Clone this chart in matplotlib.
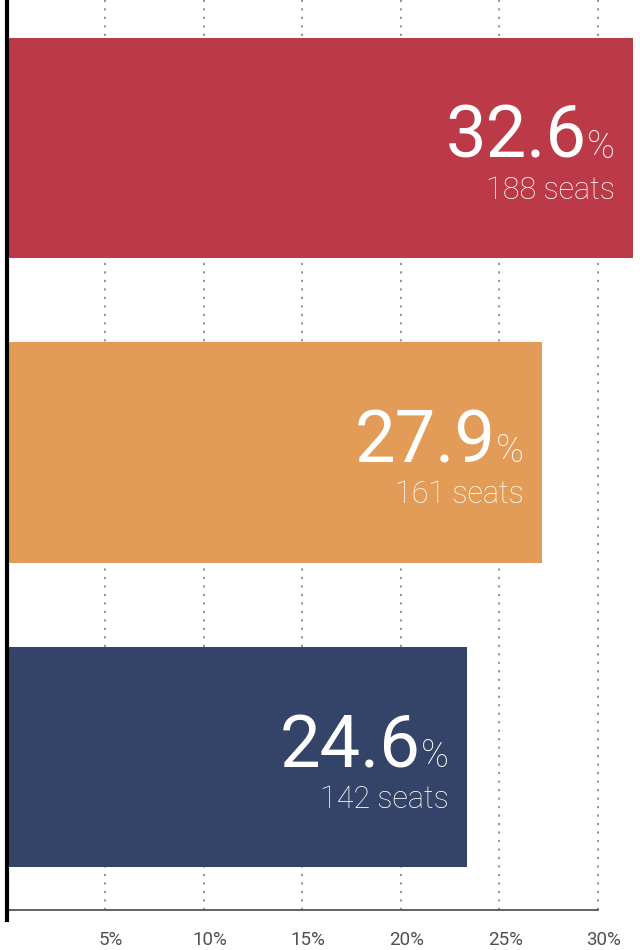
import matplotlib
matplotlib.use("Agg")
import matplotlib.pyplot as plt
from matplotlib.transforms import ScaledTranslation

# ---- data ----
parties = ["Party A", "Party B", "Party C"]
bar_lengths = [31.78, 27.16, 23.35]      # bar extent read against the % axis
pct_labels = ["32.6", "27.9", "24.6"]    # printed percentages
seat_labels = ["188 seats", "161 seats", "142 seats"]
colors = ["#BC3A47", "#E29C58", "#344368"]
xticks = [5, 10, 15, 20, 25, 30]
xtick_labels = ["5%", "10%", "15%", "20%", "25%", "30%"]

plt.rcParams['font.family'] = ['Roboto', 'DejaVu Sans']

W, H, DPI = 640, 950, 100
fig = plt.figure(figsize=(W / DPI, H / DPI), dpi=DPI)
left_px, bottom_px = 6.7, 40
ax = fig.add_axes([left_px / W, bottom_px / H, 1 - left_px / W, 1 - bottom_px / H])

px_per_pct = (598 - left_px) / 30
xmax = (W - left_px) / px_per_pct
ax.set_xlim(0, xmax)
spacing = 304.5
ax.set_ylim(2 + (910 - 757) / spacing, -148 / spacing)

ypos = list(range(len(parties)))
ax.barh(ypos, bar_lengths, height=220 / spacing, color=colors, zorder=2)

# grid
ax.set_axisbelow(True)
ax.grid(axis='x', linestyle=(0, (1.2, 3.5)), color='#8a8a8a', linewidth=1.3, zorder=0)
ax.grid(axis='y', visible=False)

# spines
for s in ['top', 'right']:
    ax.spines[s].set_visible(False)
ax.spines['left'].set_linewidth(3.0)
ax.spines['left'].set_color('black')
ax.spines['left'].set_bounds(2 + (920 - 757) / spacing, -148 / spacing)
ax.spines['left'].set_zorder(5)
ax.spines['bottom'].set_color('#555555')
ax.spines['bottom'].set_linewidth(1.3)
ax.spines['bottom'].set_bounds(0, 30)

ax.set_yticks([])
ax.set_xticks(xticks)
ax.set_xticklabels(xtick_labels, fontsize=13.5, color='#505050')
ax.tick_params(axis='x', length=0, pad=15)
for lab in ax.get_xticklabels():
    lab.set_transform(lab.get_transform() + ScaledTranslation(6 / DPI, 0, fig.dpi_scale_trans))

fig.canvas.draw()
renderer = fig.canvas.get_renderer()
pad = 18
for y, L, pct, seats in zip(ypos, bar_lengths, pct_labels, seat_labels):
    tp = ax.annotate('%', xy=(L, y), xytext=(-pad, -10), textcoords='offset pixels',
                     ha='right', va='baseline', color='white', fontsize=27,
                     fontweight='light', zorder=6)
    w = tp.get_window_extent(renderer).width
    ax.annotate(pct, xy=(L, y), xytext=(-pad - w, -10), textcoords='offset pixels',
                ha='right', va='baseline', color='white', fontsize=52,
                fontweight='normal', zorder=6)
    ax.annotate(seats, xy=(L, y), xytext=(-pad, -51), textcoords='offset pixels',
                ha='right', va='baseline', color='white', fontsize=22,
                fontweight='light', zorder=6)

fig.savefig('out.png', dpi=DPI)
